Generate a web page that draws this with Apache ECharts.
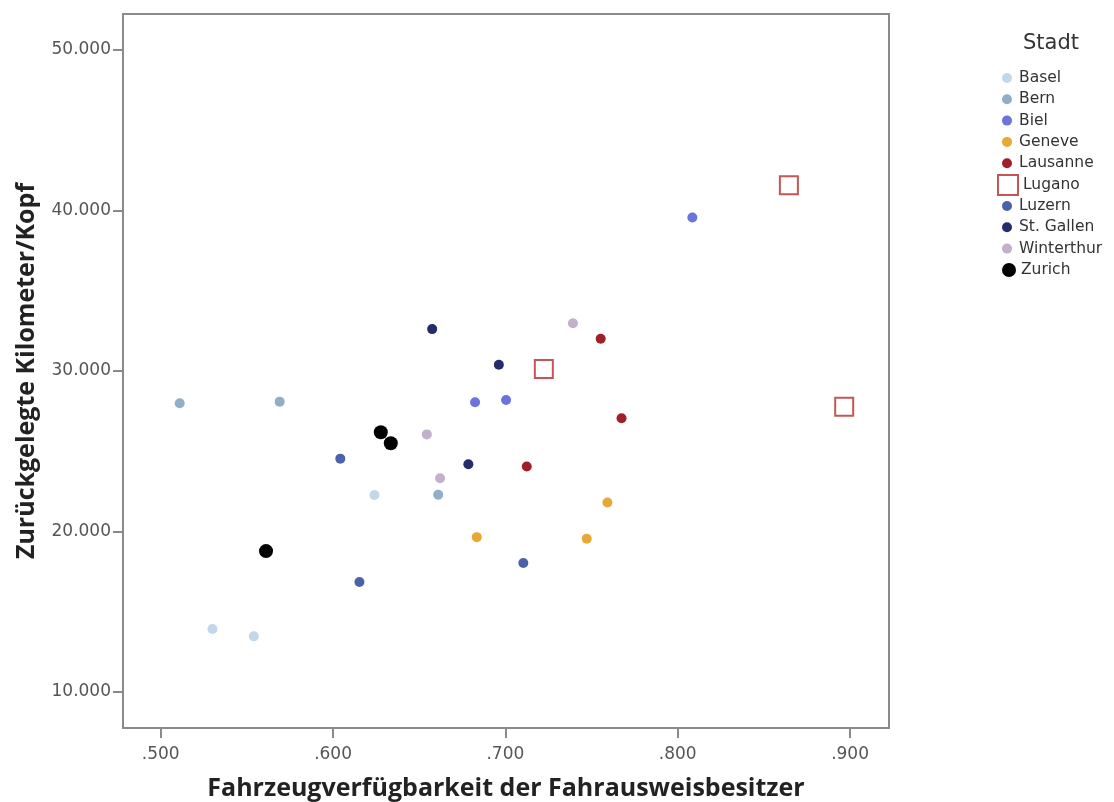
<!DOCTYPE html>
<html>
<head>
<meta charset="utf-8">
<script src="https://cdn.jsdelivr.net/npm/echarts@6/dist/echarts.min.js"></script>
<style>html,body{margin:0;padding:0;background:#fff}#c{width:1114px;height:802px}</style>
</head>
<body>
<div id="c"></div>
<script>
// Data: [Fahrzeugverfügbarkeit, Kilometer/Kopf]
const basel      = [[0.530, 13930], [0.554, 13470], [0.624, 22270]];
const bern       = [[0.511, 27990], [0.569, 28090], [0.661, 22290]];
const biel       = [[0.8085, 39560], [0.6824, 28050], [0.7004, 28190]];
const geneve     = [[0.6834, 19650], [0.7472, 19550], [0.7592, 21810]];
const lausanne   = [[0.7553, 32010], [0.7674, 27060], [0.7124, 24050]];
const lugano     = [[0.8645, 41570], [0.7223, 30120], [0.8966, 27780]];
const luzern     = [[0.6042, 24540], [0.6153, 16850], [0.7104, 18040]];
const stgallen   = [[0.6575, 32610], [0.6962, 30390], [0.6785, 24190]];
const winterthur = [[0.7392, 32970], [0.6544, 26050], [0.6621, 23320]];
const zurich     = [[0.6277, 26180], [0.6335, 25500], [0.5611, 18780]];

const cities = ['Basel','Bern','Biel','Geneve','Lausanne','Lugano','Luzern','St. Gallen','Winterthur','Zurich'];
const cityData = [basel, bern, biel, geneve, lausanne, lugano, luzern, stgallen, winterthur, zurich];
const cityColors = ['#c3d7ea','#8fafc9','#6b74dc','#e6a935','#a0202a','#c85555','#4a62a8','#252c6a','#c2b0cc','#000000'];

const xTicks = [0.5, 0.6, 0.7, 0.8, 0.9];
const yTicks = [10000, 20000, 30000, 40000, 50000];

const TITLEFONT = 'Open Sans';
const FONT = 'DejaVu Sans';
const axisGrey = '#8a8a8a';

const series = cities.map((name, i) => {
  const s = {
    name: name,
    type: 'scatter',
    data: cityData[i],
    symbol: 'circle',
    symbolSize: 10,
    itemStyle: { color: cityColors[i], opacity: 1 },
    emphasis: { disabled: true }
  };
  if (name === 'Lugano') {
    s.symbol = 'rect';
    s.symbolSize = 18;
    s.itemStyle = { color: '#ffffff', borderColor: cityColors[i], borderWidth: 2, opacity: 1 };
  }
  if (name === 'Zurich') {
    s.symbolSize = 14;
  }
  return s;
});

const legendText = { color: '#333', fontSize: 15.5, fontFamily: FONT, lineHeight: 16 };
const legendBase = {
  orient: 'vertical',
  selectedMode: false,
  padding: 0,
  itemWidth: 14,
  itemHeight: 10,
  itemGap: 5.3,
  left: 1002,
  textStyle: legendText,
  itemStyle: { borderWidth: 0 }
};

const option = {
  backgroundColor: '#ffffff',
  animation: false,
  title: {
    text: 'Stadt',
    left: 1023,
    top: 33,
    padding: 0,
    textStyle: { fontFamily: FONT, fontSize: 21, fontWeight: 'normal', color: '#333' }
  },
  legend: [
    Object.assign({}, legendBase, { data: cities.slice(0, 5), top: 70 }),
    Object.assign({}, legendBase, { data: ['Lugano'], top: 174, left: 997, itemWidth: 20, itemHeight: 20, itemStyle: {} }),
    Object.assign({}, legendBase, { data: cities.slice(6, 9), top: 198 }),
    Object.assign({}, legendBase, { data: ['Zurich'], top: 262, itemHeight: 14 })
  ],
  grid: {
    left: 123, right: 225, top: 14, bottom: 74,
    containLabel: false,
    outerBoundsMode: 'none',
    show: true, borderColor: axisGrey, borderWidth: 2, backgroundColor: '#fff'
  },
  xAxis: {
    type: 'value',
    min: 0.4781, max: 0.9226,
    splitLine: { show: false },
    axisLine: { show: true, onZero: false, lineStyle: { color: axisGrey, width: 2 } },
    axisTick: { show: true, customValues: xTicks, length: 10, lineStyle: { color: axisGrey, width: 2 } },
    axisLabel: {
      customValues: xTicks, margin: 18,
      color: '#555', fontSize: 17, fontFamily: FONT,
      formatter: v => '.' + v.toFixed(3).split('.')[1]
    },
    name: 'Fahrzeugverfügbarkeit der Fahrausweisbesitzer',
    nameLocation: 'middle', nameGap: 48,
    nameTextStyle: { color: '#222', fontSize: 25, fontWeight: 'bold', fontFamily: TITLEFONT }
  },
  yAxis: {
    type: 'value',
    min: 7760, max: 52240,
    splitLine: { show: false },
    axisLine: { show: true, onZero: false, lineStyle: { color: axisGrey, width: 2 } },
    axisTick: { show: true, customValues: yTicks, length: 10, lineStyle: { color: axisGrey, width: 2 } },
    axisLabel: {
      customValues: yTicks, margin: 12,
      color: '#555', fontSize: 17, fontFamily: FONT,
      formatter: v => (v / 1000).toFixed(3)
    },
    name: 'Zurückgelegte Kilometer/Kopf',
    nameLocation: 'middle', nameGap: 84, nameRotate: 90,
    nameTextStyle: { color: '#222', fontSize: 25, fontWeight: 'bold', fontFamily: TITLEFONT }
  },
  series: series
};

const chart = echarts.init(document.getElementById('c'), null, { renderer: 'canvas' });
chart.setOption(option);
</script>
</body>
</html>
